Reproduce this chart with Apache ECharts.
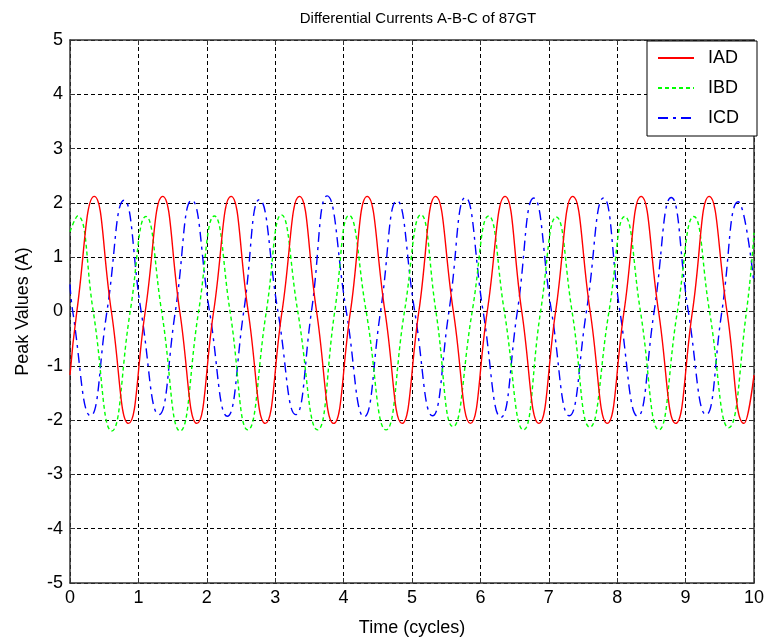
<!DOCTYPE html>
<html>
<head>
<meta charset="utf-8">
<title>Differential Currents A-B-C of 87GT</title>
<script src="https://cdn.jsdelivr.net/npm/echarts@6/dist/echarts.min.js"></script>
<style>
  html, body { margin: 0; padding: 0; background: #fff; }
  #chart { width: 767px; height: 642px; }
</style>
</head>
<body>
<div id="chart"></div>
<script>
// Key points (time in cycles, current in A): start, zero crossings, peaks, troughs, end.
const iadTime = [0, 0.10, 0.355, 0.605, 0.855, 1.10, 1.355, 1.605, 1.855, 2.10, 2.355, 2.605, 2.855,
  3.10, 3.355, 3.605, 3.855, 4.10, 4.345, 4.605, 4.855, 5.10, 5.345, 5.605, 5.855, 6.10, 6.36, 6.605, 6.855,
  7.10, 7.35, 7.605, 7.855, 8.10, 8.35, 8.605, 8.855, 9.10, 9.345, 9.605, 9.855, 10];
const iadValue = [-1.17, 0, 2.12, 0, -2.06, 0, 2.12, 0, -2.06, 0, 2.12, 0, -2.06,
  0, 2.12, 0, -2.06, 0, 2.12, 0, -2.06, 0, 2.12, 0, -2.06, 0, 2.12, 0, -2.06,
  0, 2.12, 0, -2.06, 0, 2.12, 0, -2.06, 0, 2.12, 0, -2.06, -1.17];

const ibdTime = [0, 0.11, 0.34, 0.61, 0.88, 1.11, 1.34, 1.61, 1.88, 2.11, 2.34, 2.60, 2.87,
  3.09, 3.33, 3.62, 3.87, 4.08, 4.33, 4.62, 4.89, 5.13, 5.35, 5.60, 5.88, 6.12, 6.35, 6.63, 6.88,
  7.11, 7.34, 7.60, 7.88, 8.11, 8.34, 8.61, 8.88, 9.12, 9.35, 9.63, 9.89, 10];
const ibdValue = [1.47, 1.76, 0, -2.2, 0, 1.75, 0, -2.2, 0, 1.76, 0, -2.18, 0,
  1.78, 0, -2.18, 0, 1.77, 0, -2.18, 0, 1.78, 0, -2.12, 0, 1.76, 0, -2.18, 0,
  1.74, 0, -2.13, 0, 1.75, 0, -2.18, 0, 1.75, 0, -2.14, 0, 1.45];

const icdTime = [0, 0.04, 0.30, 0.54, 0.79, 1.04, 1.30, 1.54, 1.78, 2.04, 2.30, 2.54, 2.77,
  3.04, 3.30, 3.53, 3.76, 4.04, 4.30, 4.54, 4.78, 5.04, 5.30, 5.54, 5.78, 6.04, 6.30, 6.54, 6.78,
  7.04, 7.30, 7.55, 7.80, 8.04, 8.30, 8.54, 8.79, 9.04, 9.30, 9.53, 9.77, 10];
const icdValue = [0.5, 0, -1.92, 0, 2.05, 0, -1.9, 0, 2.05, 0, -1.93, 0, 2.06,
  0, -1.9, 0, 2.13, 0, -1.94, 0, 2.04, 0, -1.92, 0, 2.1, 0, -1.95, 0, 2.09,
  0, -1.92, 0, 2.09, 0, -1.93, 0, 2.1, 0, -1.9, 0, 2.02, 0.52];

const seriesNames = ['IAD', 'IBD', 'ICD'];
const xTicks = { min: 0, max: 10, step: 1 };
const yTicks = { min: -5, max: 5, step: 1 };

const FONT = "'Liberation Sans', Arial, Helvetica, sans-serif";
const AXIS_COLOR = '#333';

function pairs(ts, vs) { return ts.map((t, i) => [t, vs[i]]); }

const baseAxis = (extent, extra) => Object.assign({
  type: 'value',
  min: extent.min,
  max: extent.max,
  interval: extent.step,
  axisLine: { show: true, onZero: false, lineStyle: { color: AXIS_COLOR, width: 1.5 } },
  axisTick: { show: true, inside: true, length: 5, lineStyle: { color: AXIS_COLOR, width: 1 } },
  splitLine: { show: false }
}, extra);

const chart = echarts.init(document.getElementById('chart'), null, { renderer: 'canvas' });

chart.setOption({
  animation: false,
  backgroundColor: '#fff',
  title: {
    text: 'Differential Currents A-B-C of 87GT',
    left: 413,
    top: 6,
    textAlign: 'center',
    textStyle: { fontFamily: FONT, fontSize: 15, fontWeight: 'normal', color: '#000' }
  },
  grid: { left: 70, right: 11, top: 40, bottom: 59, containLabel: false },
  legend: {
    data: seriesNames,
    orient: 'vertical',
    right: 10,
    top: 41,
    backgroundColor: '#fff',
    borderColor: '#000',
    borderWidth: 1,
    borderRadius: 0,
    padding: [8, 18, 9, 10],
    itemWidth: 36,
    itemHeight: 14,
    itemGap: 12,
    itemStyle: { opacity: 0 },
    textStyle: { fontFamily: FONT, fontSize: 18, color: '#000', padding: [0, 0, 0, 9] }
  },
  xAxis: [
    baseAxis(xTicks, {
      position: 'bottom',
      name: 'Time (cycles)',
      nameLocation: 'middle',
      nameGap: 36,
      nameTextStyle: { fontFamily: FONT, fontSize: 18, color: '#000' },
      axisLabel: { show: true, margin: 6, fontFamily: FONT, fontSize: 18, color: '#000' },
      splitLine: { show: true, lineStyle: { color: '#000', width: 1, type: [4, 3] } }
    }),
    baseAxis(xTicks, { position: 'top', axisLabel: { show: false } })
  ],
  yAxis: [
    baseAxis(yTicks, {
      position: 'left',
      name: 'Peak Values (A)',
      nameLocation: 'middle',
      nameGap: 38,
      nameTextStyle: { fontFamily: FONT, fontSize: 18, color: '#000' },
      axisLabel: { show: true, margin: 7, fontFamily: FONT, fontSize: 18, color: '#000' },
      splitLine: { show: true, lineStyle: { color: '#000', width: 1, type: [4, 3] } }
    }),
    baseAxis(yTicks, { position: 'right', axisLabel: { show: false } })
  ],
  series: [
    {
      name: 'IAD', type: 'line', xAxisIndex: 0, yAxisIndex: 0,
      data: pairs(iadTime, iadValue), smooth: 0.5, symbol: 'none',
      itemStyle: { color: '#ff0000' },
      lineStyle: { color: '#ff0000', width: 1.4, type: 'solid' }, z: 4
    },
    {
      name: 'IBD', type: 'line', xAxisIndex: 0, yAxisIndex: 0,
      data: pairs(ibdTime, ibdValue), smooth: 0.5, symbol: 'none',
      itemStyle: { color: '#00ff00' },
      lineStyle: { color: '#00ff00', width: 1.4, type: [4, 3] }, z: 3
    },
    {
      name: 'ICD', type: 'line', xAxisIndex: 0, yAxisIndex: 0,
      data: pairs(icdTime, icdValue), smooth: 0.5, symbol: 'none',
      itemStyle: { color: '#0000ff' },
      lineStyle: { color: '#0000ff', width: 1.4, type: [10, 5, 3, 5] }, z: 2
    }
  ]
});
</script>
</body>
</html>
